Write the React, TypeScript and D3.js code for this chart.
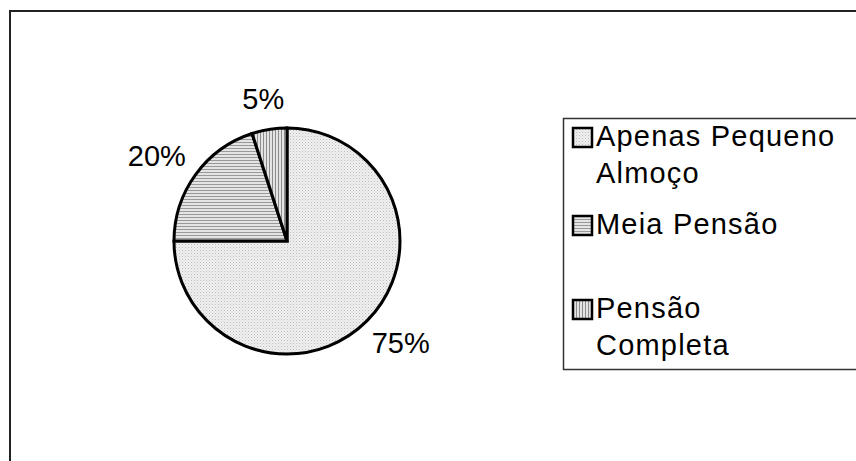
import React from "react";
import * as d3 from "d3";

const categories = ["Apenas Pequeno Almoço", "Meia Pensão", "Pensão Completa"];
const legendLines = [["Apenas Pequeno", "Almoço"], ["Meia Pensão"], ["Pensão", "Completa"]];
const values = [75, 20, 5];
const patternIds = ["pat-dots", "pat-hlines", "pat-vlines"];

const W = 856;
const H = 461;
const cx = 287;
const cy = 241;
const R = 113;
const FONT = "'Liberation Sans', Arial, sans-serif";
const FS = 29;

export default function App() {
  const total = d3.sum(values);
  const pie = d3.pie<number>().sort(null).value((d) => d);
  const arcs = pie(values);
  const arc = d3.arc<d3.PieArcDatum<number>>().innerRadius(0).outerRadius(R);

  // labels sit outside the rim: anchor beyond the edge, then push the text box outward
  const gap = 20;
  const labelPos = (a: d3.PieArcDatum<number>, w: number, h: number) => {
    const mid = (a.startAngle + a.endAngle) / 2;
    const dx = Math.sin(mid);
    const dy = -Math.cos(mid);
    return [dx * (R + gap) + (dx * w) / 2, dy * (R + gap) + (dy * h) / 2];
  };

  const legendX = 573;
  const sq = 19;
  const legendBaselines = [146, 234, 318];
  const lineH = 37;

  return (
    <svg
      width={W}
      height={H}
      style={{ position: "absolute", left: 0, top: 0, background: "#fff" }}
      fontFamily={FONT}
    >
      <defs>
        <pattern id="pat-dots" width="3" height="3" patternUnits="userSpaceOnUse">
          <rect width="3" height="3" fill="#f0f0f0" />
          <rect x="0" y="0" width="1" height="1" fill="#bcbcbc" />
          <rect x="1.5" y="1.5" width="1" height="1" fill="#d0d0d0" />
        </pattern>
        <pattern id="pat-hlines" width="4" height="3" patternUnits="userSpaceOnUse">
          <rect width="4" height="3" fill="#e4e4e4" />
          <rect x="0" y="0" width="4" height="1" fill="#999" />
        </pattern>
        <pattern id="pat-vlines" width="3" height="4" patternUnits="userSpaceOnUse">
          <rect width="3" height="4" fill="#e4e4e4" />
          <rect x="0" y="0" width="1" height="4" fill="#8c8c8c" />
        </pattern>
      </defs>

      <rect x={10} y={11} width={900} height={500} fill="#fff" stroke="#222" strokeWidth={2} />

      <g transform={`translate(${cx},${cy})`}>
        {arcs.map((a, i) => (
          <path
            key={categories[i]}
            d={arc(a) as string}
            fill={`url(#${patternIds[i]})`}
            stroke="#000"
            strokeWidth={3}
          />
        ))}
        {arcs.map((a, i) => {
          const txt = `${Math.round((a.data / total) * 100)}%`;
          const w = txt.length * 0.64 * FS;
          const [x, y] = labelPos(a, w, FS * 0.75);
          return (
            <text
              key={`lbl-${i}`}
              x={x}
              y={y}
              textAnchor="middle"
              dominantBaseline="central"
              fontSize={FS}
              fill="#000"
            >
              {txt}
            </text>
          );
        })}
      </g>

      <rect x={563.5} y={118.5} width={400} height={251} fill="#fff" stroke="#333" strokeWidth={1.5} />

      {categories.map((c, i) => {
        const base = legendBaselines[i];
        return (
          <g key={`leg-${c}`}>
            <rect
              x={legendX}
              y={base - sq + 1}
              width={sq}
              height={sq}
              fill={`url(#${patternIds[i]})`}
              stroke="#000"
              strokeWidth={2.5}
            />
            {legendLines[i].map((t, j) => (
              <text
                key={t}
                x={legendX + sq + 4}
                y={base + j * lineH}
                fontSize={FS}
                letterSpacing={1.2}
                fill="#000"
              >
                {t}
              </text>
            ))}
          </g>
        );
      })}
    </svg>
  );
}
